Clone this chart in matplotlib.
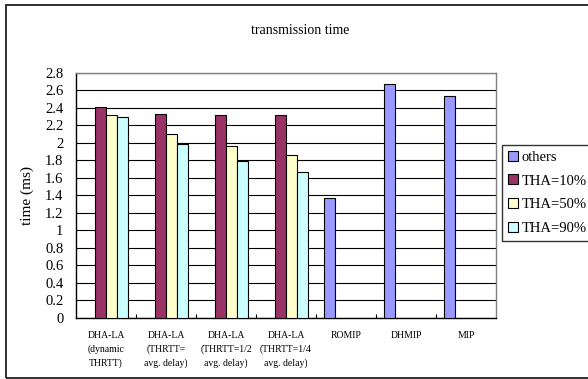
import numpy as np
import matplotlib.pyplot as plt
from matplotlib.patches import Rectangle

plt.rcParams['font.family'] = ['Liberation Serif', 'DejaVu Serif']

categories = ["DHA-LA\n(dynamic\nTHRTT)", "DHA-LA\n(THRTT=\navg. delay)",
              "DHA-LA\n(THRTT=1/2\navg. delay)", "DHA-LA\n(THRTT=1/4\navg. delay)",
              "ROMIP", "DHMIP", "MIP"]
nan = np.nan
others = [nan, nan, nan, nan, 1.365, 2.67, 2.53]
tha10 = [2.41, 2.325, 2.313, 2.313, nan, nan, nan]
tha50 = [2.313, 2.096, 1.959, 1.863, nan, nan, nan]
tha90 = [2.29, 1.99, 1.794, 1.662, nan, nan, nan]

series = [("others", others, "#9999FF"),
          ("THA=10%", tha10, "#993366"),
          ("THA=50%", tha50, "#FFFFCC"),
          ("THA=90%", tha90, "#CCFFFF")]

fig = plt.figure(figsize=(5.88, 3.79), dpi=100)
ax = fig.add_axes([76 / 588, 1 - 318 / 379, 420 / 588, 245.3 / 379])

x = np.arange(len(categories))
w = 11 / 60
for i, (name, vals, col) in enumerate(series):
    ax.bar(x + (i - 1.5) * w, vals, w, color=col, edgecolor="black",
           linewidth=0.8, label=name, zorder=3)

ax.set_xlim(-0.5, len(categories) - 0.5)
ax.set_ylim(0, 2.8)
yt = np.arange(0, 2.81, 0.2)
ax.set_yticks(yt)
ax.set_yticklabels(["%g" % round(v, 1) for v in yt], fontsize=10.5)
ax.tick_params(axis="y", length=0, pad=9)
ax.yaxis.grid(True, color="black", linewidth=0.8, zorder=0)
ax.set_axisbelow(True)

ax.set_xticks(x)
ax.set_xticklabels(categories, fontsize=7, linespacing=1.55, va="top")
ax.tick_params(axis="x", length=0, pad=9.5)
ax.set_xticks(np.arange(0.5, len(categories) - 0.5, 1), minor=True)
ax.tick_params(axis="x", which="minor", direction="in", length=3, width=0.8)

for s in ["left", "bottom"]:
    ax.spines[s].set_color("black")
    ax.spines[s].set_linewidth(1.0)
for s in ["right", "top"]:
    ax.spines[s].set_color("#808080")
    ax.spines[s].set_linewidth(1.0)

ax.set_ylabel("time (ms)", fontsize=11, labelpad=8)
fig.text(300 / 588, 1 - 30 / 379, "transmission time", fontsize=10,
         ha="center", va="center")

leg = ax.legend(loc="upper left", bbox_to_anchor=(502 / 588, 1 - 145 / 379),
                bbox_transform=fig.transFigure, fontsize=10.5, frameon=True,
                fancybox=False, handlelength=0.68, handleheight=0.68,
                handletextpad=0.28, labelspacing=0.72, borderpad=0.4,
                borderaxespad=0)
leg.get_frame().set_edgecolor("black")
leg.get_frame().set_linewidth(1.0)

# outer chart frame
fig.patches.append(Rectangle((6 / 588, 1 - 377.5 / 379), 1.1, (377.5 - 5) / 379,
                             transform=fig.transFigure, fill=False,
                             edgecolor="#202020", linewidth=1.3))

fig.savefig("out.png", dpi=100)
